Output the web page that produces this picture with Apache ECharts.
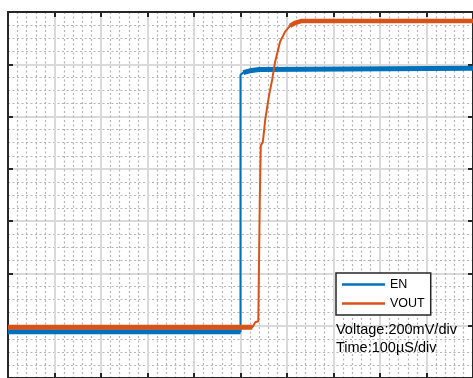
<!DOCTYPE html>
<html>
<head>
<meta charset="utf-8">
<script src="https://cdn.jsdelivr.net/npm/echarts@6/dist/echarts.min.js"></script>
<style>
  html, body { margin: 0; padding: 0; background: #fff; }
  #chart { width: 473px; height: 378px; }
</style>
</head>
<body>
<div id="chart"></div>
<script>
// time in us, voltage in V (200mV/div, 100us/div)
const enTime = [0, 500, 500, 506, 520, 540, 1000];
const enVolt = [0.177, 0.177, 1.160, 1.168, 1.175, 1.180, 1.185];

const voutTime = [0, 525.5, 531.9, 538.3, 541.5, 543.6, 547.9, 551.1, 553.2, 561.7, 568.1, 574.5, 585.1, 595.7, 606.4, 617.0, 631.9, 1000];
const voutVolt = [0.194, 0.194, 0.213, 0.217, 0.685, 0.890, 0.901, 0.951, 0.989, 1.084, 1.141, 1.210, 1.286, 1.324, 1.347, 1.358, 1.366, 1.366];

const legendNames = ['EN', 'VOUT'];
const noteLines = ['Voltage:200mV/div', 'Time:100\u00b5S/div'];

const pairs = (xs, ys) => xs.map((x, i) => [x, ys[i]]);
const enData = pairs(enTime, enVolt);
const voutData = pairs(voutTime, voutVolt);

const axisLine = { show: true, onZero: false, lineStyle: { color: '#262626', width: 2 } };
const axisTick = { show: true, inside: true, length: 5, lineStyle: { color: '#262626', width: 2 } };
const majorLine = { show: true, lineStyle: { color: '#dadada', width: 2 } };
const minorLine = { show: true, lineStyle: { color: '#b4b4b4', width: 1.2, type: [2, 2.5] } };

const xBase = (pos, grid) => ({
    type: 'value', position: pos, min: 0, max: 1000, interval: 100,
    axisLine: axisLine, axisTick: axisTick, axisLabel: { show: false },
    splitLine: grid ? majorLine : { show: false },
    minorTick: { show: false, splitNumber: 5 },
    minorSplitLine: grid ? minorLine : { show: false }
});
const yBase = (pos, grid) => ({
    type: 'value', position: pos, min: 0, max: 1.4, interval: 0.2,
    axisLine: axisLine, axisTick: axisTick, axisLabel: { show: false },
    splitLine: grid ? majorLine : { show: false },
    minorTick: { show: false, splitNumber: 4 },
    minorSplitLine: grid ? minorLine : { show: false }
});

const lineSeries = (name, data, color, width, z) => ({
    name: name, type: 'line', data: data, showSymbol: false, symbol: 'none',
    lineStyle: { color: color, width: width, cap: 'butt' }, itemStyle: { color: color },
    z: z, silent: true
});

var myChart = echarts.init(document.getElementById('chart'), null, { renderer: 'canvas' });
option = {
    animation: false,
    grid: { left: 8, top: 12, width: 470, height: 368, containLabel: false },
    xAxis: [xBase('bottom', true), xBase('top', false)],
    yAxis: [yBase('left', true), yBase('right', false)],
    legend: {
        data: legendNames, orient: 'vertical', left: 336, top: 273,
        icon: 'rect', itemWidth: 43, itemHeight: 2.5, itemGap: 6,
        padding: [5, 6, 5, 6],
        backgroundColor: '#fff', borderColor: '#262626', borderWidth: 1.5,
        textStyle: { fontFamily: 'Liberation Sans', fontSize: 12.5, color: '#000' },
        z: 10
    },
    graphic: noteLines.map((t, i) => ({
        type: 'text', left: 336, top: 322 + i * 18, z: 10,
        style: { text: t, font: '14.5px "Liberation Sans"', fill: '#000' }
    })),
    series: [
        lineSeries('EN', enData, '#0072BD', 2, 3),
        lineSeries('VOUT', voutData, '#D95319', 2, 4),
        lineSeries('en-band', enData.slice(0, 2), '#0072BD', 5, 3),
        lineSeries('en-band2', enData.slice(3), '#0072BD', 5, 3),
        lineSeries('vout-band', voutData.slice(0, 2), '#D95319', 5, 4),
        lineSeries('vout-band2', voutData.slice(14), '#D95319', 4.5, 4)
    ]
};
myChart.setOption(option);
</script>
</body>
</html>
